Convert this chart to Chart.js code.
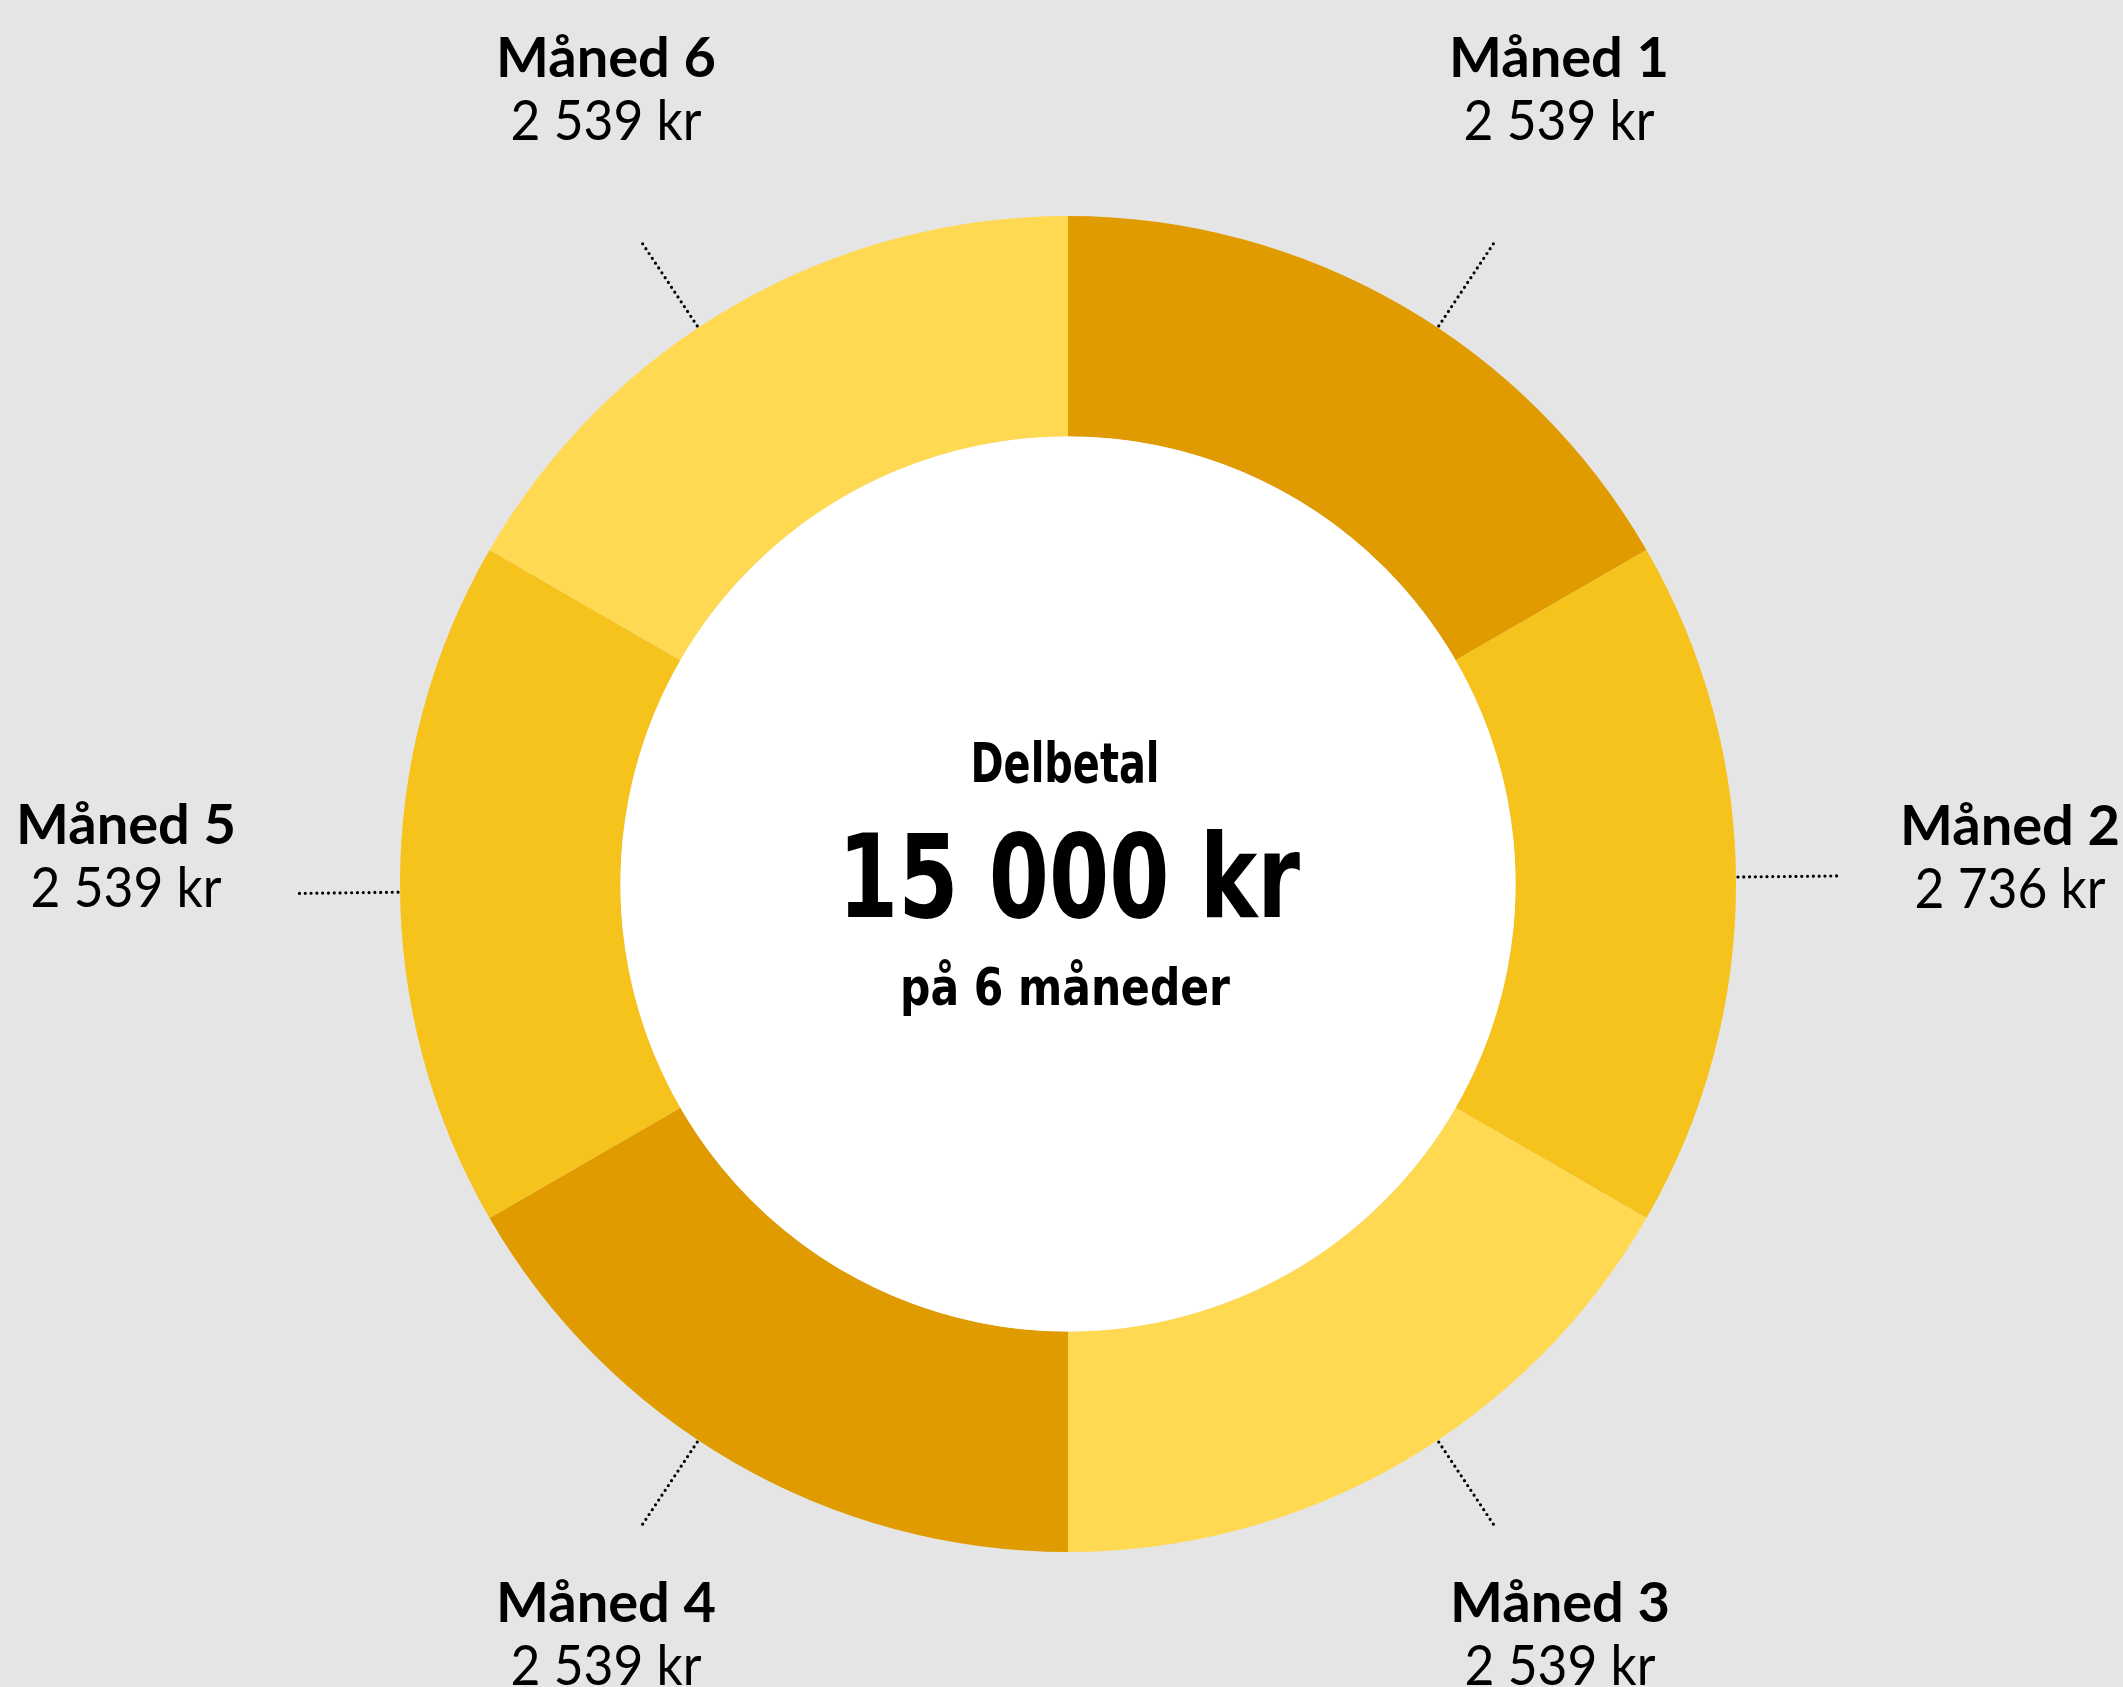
<!DOCTYPE html>
<html>
<head>
<meta charset="utf-8">
<script src="https://cdn.jsdelivr.net/npm/chart.js@4/dist/chart.umd.min.js"></script>
<style>
  html, body { margin: 0; padding: 0; background: #e5e5e5; }
  #wrap { width: 2123px; height: 1687px; }
</style>
</head>
<body>
<div id="wrap"><canvas id="donut"></canvas></div>
<script>
// Data
const months = ['Måned 1', 'Måned 2', 'Måned 3', 'Måned 4', 'Måned 5', 'Måned 6'];
const amounts = [2539, 2736, 2539, 2539, 2539, 2539];
const shares = [1, 1, 1, 1, 1, 1]; // the slices are drawn equal in the picture
const centerTitle = 'Delbetal';
const centerTotal = '15 000 kr';
const centerSub = 'på 6 måneder';

const sliceColors = ['#e09b00', '#f6c21c', '#ffd952', '#e09b00', '#f6c21c', '#ffd952'];

function formatKr(v) {
    return String(v).replace(/\B(?=(\d{3})+(?!\d))/g, ' ') + ' kr';
}

// draws text centred on x, squeezed/stretched horizontally by sx
function scaledText(ctx, text, x, y, sx) {
    ctx.save();
    ctx.translate(x, y);
    ctx.scale(sx, 1);
    ctx.textAlign = 'center';
    ctx.fillText(text, 0, 0);
    ctx.restore();
}

// same, but fitted to a width
function fitText(ctx, text, x, y, width) {
    scaledText(ctx, text, x, y, width / ctx.measureText(text).width);
}

// label layout: leader line shift (deg) and title offset from the centre
const labelLayout = [
    { shift: 3.6, dx: 491, dy: -807 },
    { shift: -0.6, dx: 942, dy: -39 },
    { shift: -3.6, dx: 492, dy: 738 },
    { shift: 3.6, dx: -462, dy: 738 },
    { shift: -0.7, dx: -942, dy: -40 },
    { shift: -3.6, dx: -462, dy: -807 }
];

const donutDecor = {
    id: 'donutDecor',
    beforeDraw(chart) {
        const ctx = chart.ctx;
        ctx.save();
        ctx.fillStyle = '#e5e5e5';
        ctx.fillRect(0, 0, chart.width, chart.height);
        ctx.restore();
    },
    afterDatasetsDraw(chart) {
        const ctx = chart.ctx;
        const arcs = chart.getDatasetMeta(0).data;
        const cx = arcs[0].x, cy = arcs[0].y;
        const outer = arcs[0].outerRadius, inner = arcs[0].innerRadius;

        // white hole
        ctx.save();
        ctx.fillStyle = '#ffffff';
        ctx.beginPath();
        ctx.arc(cx, cy, inner, 0, Math.PI * 2);
        ctx.fill();
        ctx.restore();

        // leader lines + labels
        arcs.forEach((arc, i) => {
            const lay = labelLayout[i];
            const mid = (arc.startAngle + arc.endAngle) / 2 + lay.shift * Math.PI / 180;
            const r0 = outer + 2, r1 = outer + 103;
            ctx.save();
            ctx.strokeStyle = '#000';
            ctx.lineWidth = 3.2;
            ctx.lineCap = 'round';
            ctx.setLineDash([0, 5.8]);
            ctx.beginPath();
            ctx.moveTo(cx + Math.cos(mid) * r0, cy + Math.sin(mid) * r0);
            ctx.lineTo(cx + Math.cos(mid) * r1, cy + Math.sin(mid) * r1);
            ctx.stroke();
            ctx.restore();

            const lx = cx + lay.dx, ly = cy + lay.dy;
            ctx.save();
            ctx.fillStyle = '#000';
            ctx.textBaseline = 'alphabetic';
            ctx.font = 'bold 56px Lato';
            scaledText(ctx, months[i], lx, ly, 1.0);
            ctx.font = '56px Lato';
            scaledText(ctx, formatKr(amounts[i]), lx, ly + 63, 0.92);
            ctx.restore();
        });

        // centre text
        ctx.save();
        ctx.fillStyle = '#000';
        ctx.textBaseline = 'alphabetic';
        ctx.font = 'bold 55px "DejaVu Sans Condensed"';
        fitText(ctx, centerTitle, cx - 3, cy - 102, 189);
        ctx.font = 'bold 115px "DejaVu Sans Condensed"';
        fitText(ctx, centerTotal, cx + 1, cy + 33, 462);
        ctx.font = 'bold 52px "DejaVu Sans Condensed"';
        fitText(ctx, centerSub, cx - 3, cy + 121, 330);
        ctx.restore();
    }
};

new Chart(document.getElementById('donut'), {
    type: 'doughnut',
    data: {
        labels: months,
        datasets: [{
            data: shares,
            backgroundColor: sliceColors,
            borderWidth: 0,
            hoverOffset: 0
        }]
    },
    options: {
        responsive: true,
        maintainAspectRatio: false,
        animation: false,
        events: [],
        cutout: '67%',
        layout: { padding: { left: 400, right: 387, top: 216, bottom: 135 } },
        plugins: {
            legend: { display: false },
            tooltip: { enabled: false }
        }
    },
    plugins: [donutDecor]
});
</script>
</body>
</html>
